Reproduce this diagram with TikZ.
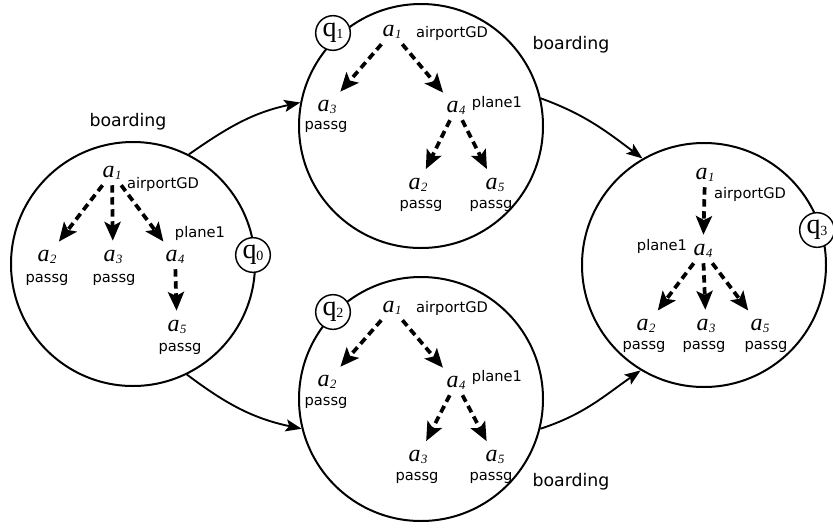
\documentclass[tikz,border=0pt]{standalone}
\usepackage{fontspec}
\setmainfont{DejaVu Sans}
\newfontfamily\serf{Liberation Serif}
\usetikzlibrary{arrows.meta}
\newcommand\av[1]{{\serf\itshape\fontsize{18}{18}\selectfont a\kern0.3pt\raisebox{-1.5pt}{\fontsize{9.5}{9.5}\selectfont #1}}}
\newcommand\qv[1]{{\serf\fontsize{21}{21}\selectfont q\kern-0.3pt\raisebox{-1pt}{\fontsize{10.5}{10.5}\selectfont #1}}}
\begin{document}
\begin{tikzpicture}[x=0.75pt,y=-0.75pt,
  state/.style={circle,draw,line width=1.5pt,minimum size=183pt,inner sep=0pt},
  qlab/.style={circle,draw,fill=white,line width=1.1pt,minimum size=26pt,inner sep=0pt},
  avar/.style={inner sep=4pt},
  lab/.style={font=\fontsize{11}{11}\selectfont,inner sep=0pt},
  blab/.style={font=\fontsize{13}{13}\selectfont,inner sep=0pt},
  rel/.style={line width=2.8pt,dash pattern=on 5.5pt off 3.5pt,-{Stealth[length=14pt,width=12pt,inset=3pt]},shorten >=3pt},
  trans/.style={line width=1.4pt,-{Stealth[length=12pt,width=9pt,inset=2.5pt]}}
]
\useasboundingbox (0,0) rectangle (833,529);

% states
\node[state] (s0) at (133,264) {};
\node[state] (s1) at (421,126) {};
\node[state] (s2) at (421,399) {};
\node[state] (s3) at (704,265) {};

% transitions
\draw[trans] (s0.63.8) to[out=35,in=192] (s1.169);
\draw[trans] (s0.-64) to[out=-37,in=168] (s2.194);
\draw[trans] (s1.13) to[out=-20,in=143] (s3.120);
\draw[trans] (s2.-14.6) to[out=18,in=-145] (s3.-121);

% state labels
\node[qlab] (q0) at (253,255) {\qv{0}};
\node[qlab] (q1) at (333,33) {\qv{1}};
\node[qlab] (q2) at (333,312) {\qv{2}};
\node[qlab] (q3) at (817,230) {\qv{3}};

\node[blab] (b0) at (128,122) {boarding};
\node[blab] (b1) at (571,45) {boarding};
\node[blab] (b2) at (571,482) {boarding};

% ---- q0
\node[avar] (p1) at (112,173) {\av{1}};
\node[lab] at (163,184) {airportGD};
\node[avar] (p2) at (47,257) {\av{2}};
\node[lab] at (47,280) {passg};
\node[avar] (p3) at (113,257) {\av{3}};
\node[lab] at (114,280) {passg};
\node[avar] (p4) at (175,257) {\av{4}};
\node[lab] at (200,233) {plane1};
\node[avar] (p5) at (177,327) {\av{5}};
\node[lab] at (180,349) {passg};
\draw[rel] (p1) -- (p2);
\draw[rel] (p1) -- (p3);
\draw[rel] (p1) -- (p4);
\draw[rel] (p4) -- (p5);

% ---- q1
\node[avar] (r1) at (392,32) {\av{1}};
\node[lab] at (452,33) {airportGD};
\node[avar] (r3) at (327,107) {\av{3}};
\node[lab] at (326,127) {passg};
\node[avar] (r4) at (456,108) {\av{4}};
\node[lab] at (497,103) {plane1};
\node[avar] (r2) at (418,185) {\av{2}};
\node[lab] at (421,206) {passg};
\node[avar] (r5) at (495,185) {\av{5}};
\node[lab] at (491,206) {passg};
\draw[rel] (r1) -- (r3);
\draw[rel] (r1) -- (r4);
\draw[rel] (r4) -- (r2);
\draw[rel] (r4) -- (r5);

% ---- q2
\node[avar] (t1) at (392,308) {\av{1}};
\node[lab] at (452,308) {airportGD};
\node[avar] (t2) at (327,382) {\av{2}};
\node[lab] at (326,403) {passg};
\node[avar] (t4) at (456,383) {\av{4}};
\node[lab] at (497,377) {plane1};
\node[avar] (t3) at (418,457) {\av{3}};
\node[lab] at (417,478) {passg};
\node[avar] (t5) at (495,457) {\av{5}};
\node[lab] at (491,478) {passg};
\draw[rel] (t1) -- (t2);
\draw[rel] (t1) -- (t4);
\draw[rel] (t4) -- (t3);
\draw[rel] (t4) -- (t5);

% ---- q3
\node[avar] (u1) at (705,175) {\av{1}};
\node[lab] at (750,194) {airportGD};
\node[avar] (u4) at (703,251) {\av{4}};
\node[lab] at (662,246) {plane1};
\node[avar] (u2) at (646,326) {\av{2}};
\node[lab] at (644,347) {passg};
\node[avar] (u3) at (706,326) {\av{3}};
\node[lab] at (704,347) {passg};
\node[avar] (u5) at (760,326) {\av{5}};
\node[lab] at (766,347) {passg};
\draw[rel] (u1) -- (u4);
\draw[rel] (u4) -- (u2);
\draw[rel] (u4) -- (u3);
\draw[rel] (u4) -- (u5);
\end{tikzpicture}
\end{document}
